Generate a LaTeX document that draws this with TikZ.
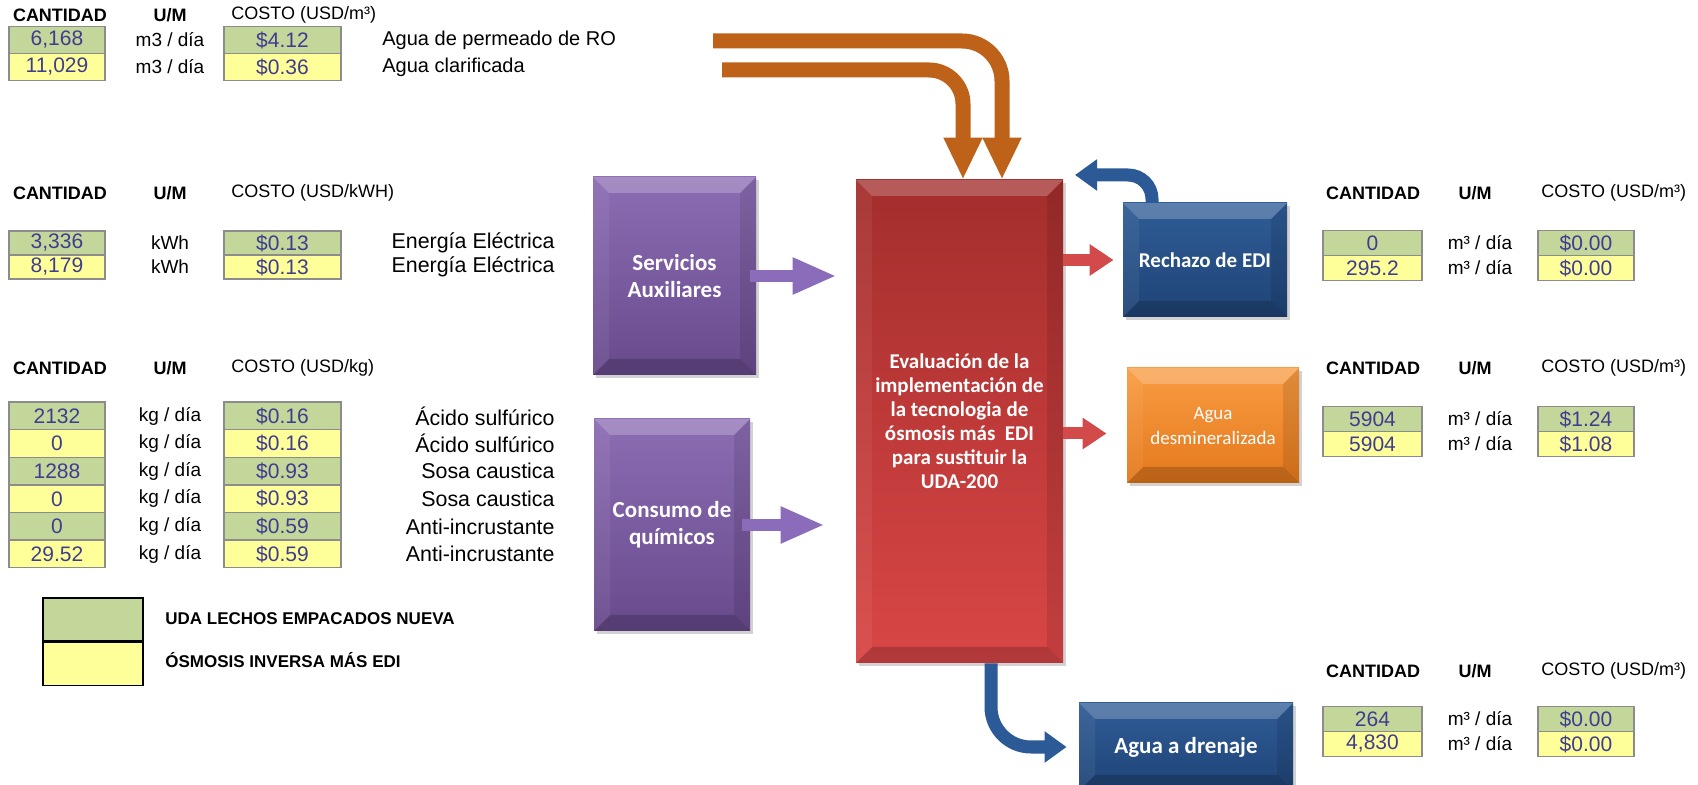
\documentclass[tikz,border=0pt]{standalone}
\usepackage{fontspec}
\setmainfont{Liberation Sans}
\newfontfamily\calibri{Carlito}
\usetikzlibrary{arrows.meta,positioning,shadows}
\definecolor{CellGreen}{HTML}{C4D79B}
\definecolor{CellYellow}{HTML}{FFFF99}
\definecolor{CellLine}{HTML}{8C8C8C}
\definecolor{CellInk}{HTML}{3F3D8F}
\definecolor{PurpleTop}{HTML}{8C6DB4}
\definecolor{PurpleBot}{HTML}{684A8C}
\definecolor{RedTop}{HTML}{A32E2C}
\definecolor{RedBot}{HTML}{D94646}
\definecolor{BlueTop}{HTML}{2F5C96}
\definecolor{BlueBot}{HTML}{1F4477}
\definecolor{OrangeTop}{HTML}{F99C42}
\definecolor{OrangeBot}{HTML}{E4781C}
\definecolor{ArrowBrown}{HTML}{BE621A}
\definecolor{ArrowPurple}{HTML}{8B6CBA}
\definecolor{ArrowRed}{HTML}{D24B4A}
\definecolor{ArrowBlue}{HTML}{2C5A96}
\tikzset{
  cell/.style={draw=CellLine,line width=.7pt,inner sep=0pt,text=CellInk,
               font=\fontsize{10.5}{12}\selectfont},
  qcell/.style={cell,minimum width=48pt,minimum height=#1},
  ccell/.style={cell,minimum width=58.5pt,minimum height=#1},
  rqcell/.style={cell,minimum width=49.5pt,minimum height=#1},
  rccell/.style={cell,minimum width=48pt,minimum height=#1},
  green/.style={fill=CellGreen},
  yellow/.style={fill=CellYellow},
  hdr/.style={font=\fontsize{9}{11}\selectfont\bfseries,inner sep=0pt},
  costhdr/.style={font=\fontsize{9}{11}\selectfont,inner sep=0pt,anchor=west},
  unit/.style={font=\fontsize{9.5}{11}\selectfont,inner sep=0pt},
  lbl/.style={font=\fontsize{10}{12}\selectfont,inner sep=0pt},
  biglbl/.style={font=\fontsize{10.7}{12}\selectfont,inner sep=0pt,anchor=east},
  legsw/.style={draw=black,line width=.8pt,minimum width=50pt,minimum height=21.5pt,inner sep=0pt},
  legtext/.style={font=\fontsize{8.5}{10}\selectfont\bfseries,anchor=west,inner sep=0pt},
  bevel/.style={path picture={
    \coordinate (bvA) at (path picture bounding box.north west);
    \coordinate (bvB) at (path picture bounding box.north east);
    \coordinate (bvC) at (path picture bounding box.south east);
    \coordinate (bvD) at (path picture bounding box.south west);
    \fill[white,opacity=.22] (bvA) -- (bvB) -- ([shift={(-8pt,-8pt)}]bvB) -- ([shift={(8pt,-8pt)}]bvA) -- cycle;
    \fill[white,opacity=.06] (bvA) -- ([shift={(8pt,-8pt)}]bvA) -- ([shift={(8pt,8pt)}]bvD) -- (bvD) -- cycle;
    \fill[black,opacity=.10] (bvB) -- (bvC) -- ([shift={(-8pt,8pt)}]bvC) -- ([shift={(-8pt,-8pt)}]bvB) -- cycle;
    \fill[black,opacity=.18] (bvD) -- (bvC) -- ([shift={(-8pt,8pt)}]bvC) -- ([shift={(8pt,8pt)}]bvD) -- cycle;
  }},
  block/.style={inner sep=3pt,align=center,text=white,bevel,
                drop shadow={opacity=.35,shadow xshift=1.5pt,shadow yshift=-1.5pt}},
  blockpurple/.style={block,top color=PurpleTop,bottom color=PurpleBot,
                      font=\calibri\bfseries\fontsize{11.5}{13.5}\selectfont},
  blockred/.style={block,top color=RedTop,bottom color=RedBot,
                   font=\calibri\bfseries\fontsize{10.5}{12}\selectfont},
  blockblue/.style={block,top color=BlueTop,bottom color=BlueBot,
                    font=\calibri\bfseries\fontsize{10.5}{12}\selectfont},
  blockorange/.style={block,top color=OrangeTop,bottom color=OrangeBot,
                      font=\calibri\fontsize{9.5}{12.5}\selectfont},
  flowbrown/.style={draw=ArrowBrown,line width=7.5pt,-{Triangle[length=21pt,width=18pt]}},
  flowpurple/.style={draw=ArrowPurple,line width=6pt,-{Triangle[length=22pt,width=17pt]}},
  flowred/.style={draw=ArrowRed,line width=6pt,-{Triangle[length=12pt,width=15pt]}},
  flowblue/.style={draw=ArrowBlue,line width=6.5pt,-{Triangle[length=11pt,width=15pt]}},
}

\begin{document}
\begin{tikzpicture}[x=.5pt,y=-.5pt]
  \useasboundingbox (0,0) rectangle (1698,785);
  \clip (0,0) rectangle (1698,785);
  \fill[white] (0,0) rectangle (1698,785);

  % agua de entrada
  \node[hdr] (h1q) at (60,15) {CANTIDAD};
  \node[hdr] (h1u) at (170,15) {U/M};
  \node[costhdr] (h1c) at (231,15) {COSTO (USD/m³)};
  \node[qcell=13.5pt,green] (t1q1) at (57,40) {6,168};
  \node[unit] (t1u1) at (170,40) {m3 / día};
  \node[ccell=13.5pt,green] (t1c1) at (282.5,40) {\$4.12};
  \node[lbl,anchor=west] (t1l1) at (382,40) {Agua de permeado de RO};
  \node[qcell=13.5pt,yellow] (t1q2) at (57,67) {11,029};
  \node[unit] (t1u2) at (170,67) {m3 / día};
  \node[ccell=13.5pt,yellow] (t1c2) at (282.5,67) {\$0.36};
  \node[lbl,anchor=west] (t1l2) at (382,67) {Agua clarificada};

  % energia
  \node[hdr] (h2q) at (60,193) {CANTIDAD};
  \node[hdr] (h2u) at (170,193) {U/M};
  \node[costhdr] (h2c) at (231,193) {COSTO (USD/kWH)};
  \node[qcell=12pt,green] (t2q1) at (57,243) {3,336};
  \node[unit] (t2u1) at (170,243) {kWh};
  \node[ccell=12pt,green] (t2c1) at (282.5,243) {\$0.13};
  \node[biglbl] (t2l1) at (555,243) {Energía Eléctrica};
  \node[qcell=12pt,yellow] (t2q2) at (57,267) {8,179};
  \node[unit] (t2u2) at (170,267) {kWh};
  \node[ccell=12pt,yellow] (t2c2) at (282.5,267) {\$0.13};
  \node[biglbl] (t2l2) at (555,267) {Energía Eléctrica};

  % quimicos
  \node[hdr] (h3q) at (60,368) {CANTIDAD};
  \node[hdr] (h3u) at (170,368) {U/M};
  \node[costhdr] (h3c) at (231,368) {COSTO (USD/kg)};
  \node[qcell=13.8pt,green] (t3q1) at (57,416) {2132};
  \node[unit] (t3u1) at (170,416) {kg / día};
  \node[ccell=13.8pt,green] (t3c1) at (282.5,416) {\$0.16};
  \node[biglbl] (t3l1) at (555,416) {Ácido sulfúrico};
  \node[qcell=13.8pt,yellow] (t3q2) at (57,443.6) {0};
  \node[unit] (t3u2) at (170,443.6) {kg / día};
  \node[ccell=13.8pt,yellow] (t3c2) at (282.5,443.6) {\$0.16};
  \node[biglbl] (t3l2) at (555,443.6) {Ácido sulfúrico};
  \node[qcell=13.8pt,green] (t3q3) at (57,471.2) {1288};
  \node[unit] (t3u3) at (170,471.2) {kg / día};
  \node[ccell=13.8pt,green] (t3c3) at (282.5,471.2) {\$0.93};
  \node[biglbl] (t3l3) at (555,471.2) {Sosa caustica};
  \node[qcell=13.8pt,yellow] (t3q4) at (57,498.8) {0};
  \node[unit] (t3u4) at (170,498.8) {kg / día};
  \node[ccell=13.8pt,yellow] (t3c4) at (282.5,498.8) {\$0.93};
  \node[biglbl] (t3l4) at (555,498.8) {Sosa caustica};
  \node[qcell=13.8pt,green] (t3q5) at (57,526.4) {0};
  \node[unit] (t3u5) at (170,526.4) {kg / día};
  \node[ccell=13.8pt,green] (t3c5) at (282.5,526.4) {\$0.59};
  \node[biglbl] (t3l5) at (555,526.4) {Anti-incrustante};
  \node[qcell=13.8pt,yellow] (t3q6) at (57,554) {29.52};
  \node[unit] (t3u6) at (170,554) {kg / día};
  \node[ccell=13.8pt,yellow] (t3c6) at (282.5,554) {\$0.59};
  \node[biglbl] (t3l6) at (555,554) {Anti-incrustante};

  % leyenda
  \node[legsw,green] (legA) at (93,619.5) {};
  \node[legsw,yellow,below=0pt of legA] (legB) {};
  \node[legtext] (legAt) at (165,619) {UDA LECHOS EMPACADOS NUEVA};
  \node[legtext] (legBt) at (165,660) {ÓSMOSIS INVERSA MÁS EDI};

  % rechazo de EDI
  \node[hdr] (h4q) at (1373,193) {CANTIDAD};
  \node[hdr] (h4u) at (1475,193) {U/M};
  \node[costhdr] (h4c) at (1541,193) {COSTO (USD/m³)};
  \node[rqcell=12.5pt,green] (t4q1) at (1372.5,243) {0};
  \node[unit] (t4u1) at (1480,243) {m³ / día};
  \node[rccell=12.5pt,green] (t4c1) at (1586,243) {\$0.00};
  \node[rqcell=12.5pt,yellow] (t4q2) at (1372.5,268) {295.2};
  \node[unit] (t4u2) at (1480,268) {m³ / día};
  \node[rccell=12.5pt,yellow] (t4c2) at (1586,268) {\$0.00};

  % agua desmineralizada
  \node[hdr] (h5q) at (1373,368) {CANTIDAD};
  \node[hdr] (h5u) at (1475,368) {U/M};
  \node[costhdr] (h5c) at (1541,368) {COSTO (USD/m³)};
  \node[rqcell=12.5pt,green] (t5q1) at (1372.5,419) {5904};
  \node[unit] (t5u1) at (1480,419) {m³ / día};
  \node[rccell=12.5pt,green] (t5c1) at (1586,419) {\$1.24};
  \node[rqcell=12.5pt,yellow] (t5q2) at (1372.5,444) {5904};
  \node[unit] (t5u2) at (1480,444) {m³ / día};
  \node[rccell=12.5pt,yellow] (t5c2) at (1586,444) {\$1.08};

  % agua a drenaje
  \node[hdr] (h6q) at (1373,671) {CANTIDAD};
  \node[hdr] (h6u) at (1475,671) {U/M};
  \node[costhdr] (h6c) at (1541,671) {COSTO (USD/m³)};
  \node[rqcell=12.5pt,green] (t6q1) at (1372.5,719) {264};
  \node[unit] (t6u1) at (1480,719) {m³ / día};
  \node[rccell=12.5pt,green] (t6c1) at (1586,719) {\$0.00};
  \node[rqcell=12.5pt,yellow] (t6q2) at (1372.5,744) {4,830};
  \node[unit] (t6u2) at (1480,744) {m³ / día};
  \node[rccell=12.5pt,yellow] (t6c2) at (1586,744) {\$0.00};

  % bloques
  \node[blockpurple,minimum width=81.5pt,minimum height=99pt] (serv) at (674.5,276)
    {Servicios\\Auxiliares};
  \node[blockpurple,minimum width=78pt,minimum height=106pt] (quim) at (672,525)
    {Consumo de\\químicos};
  \node[blockred,minimum width=103.5pt,minimum height=241.5pt] (eval) at (959.5,421.5)
    {Evaluación de la\\implementación de\\la tecnologia de\\ósmosis más~~EDI\\para sustituir la\\UDA-200};
  \node[blockblue,minimum width=82pt,minimum height=57pt] (rech) at (1205,260)
    {Rechazo de EDI};
  \node[blockorange,minimum width=86pt,minimum height=57.5pt] (desm) at (1213,425.5)
    {Agua\\desmineralizada};
  \node[blockblue,minimum width=107pt,minimum height=44pt,
        font=\calibri\bfseries\fontsize{11.5}{13}\selectfont] (dren) at (1186,747)
    {Agua a drenaje};

  % flechas
  \coordinate (permIn) at (713,41);
  \coordinate (clarIn) at (722,70);
  \coordinate (rejOut) at (1075,175);
  \draw[flowbrown,rounded corners=20pt] (permIn) -| ([xshift=21.25pt]eval.north);
  \draw[flowbrown,rounded corners=17pt] (clarIn) -| ([xshift=1.75pt]eval.north);
  \draw[flowpurple] ([xshift=-3pt]serv.east) -- ([xshift=-9.5pt]serv.east -| eval.west);
  \draw[flowpurple] ([xshift=-4pt]quim.east) -- ([xshift=-15.5pt]quim.east -| eval.west);
  \draw[flowred] (eval.east |- rech.west) -- ([xshift=-4.5pt]rech.west);
  \draw[flowred] ([yshift=-4pt]eval.east |- desm.west) -- ([xshift=-10pt,yshift=-4pt]desm.west);
  \draw[flowblue,rounded corners=12pt] ([xshift=-26.5pt]rech.north) |- (rejOut);
  \draw[flowblue,rounded corners=20pt] ([xshift=15.75pt]eval.south) |- ([xshift=-6pt]dren.west);
\end{tikzpicture}
\end{document}
